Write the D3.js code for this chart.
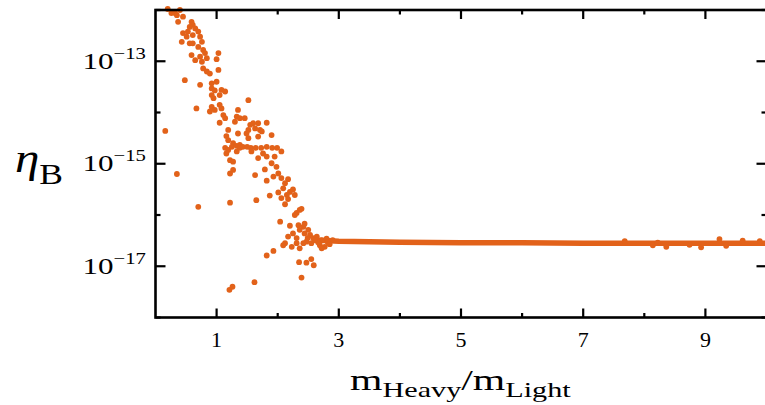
<!DOCTYPE html>
<html><head><meta charset="utf-8">
<script src="https://cdn.jsdelivr.net/npm/d3@7"></script>
<style>html,body{margin:0;padding:0;background:#fff}svg{display:block}</style>
</head><body>
<script>
// ---- data (x = m_Heavy/m_Light, y = log10 of eta_B) ----
const scatterX = [0.20,0.26,0.32,0.35,0.37,0.45,0.40,0.59,0.61,0.56,0.65,0.45,0.53,0.51,0.61,0.70,0.73,0.43,0.56,0.61,
 0.76,0.70,0.78,0.81,0.59,0.73,1.03,0.65,0.76,0.84,1.00,0.78,0.84,0.89,1.03,0.48,0.73,0.92,1.00,0.92,
 0.97,1.08,1.14,0.92,1.05,0.95,1.52,0.67,0.92,1.05,1.08,0.89,0.97,1.35,1.11,1.14,1.33,1.38,1.46,1.05,
 1.30,1.55,1.60,1.68,1.82,0.16,1.19,1.52,1.63,1.71,1.90,1.16,1.35,1.49,1.74,1.52,1.68,1.19,1.27,1.38,
 1.14,1.19,1.25,1.33,1.38,1.43,1.50,1.56,1.64,1.73,1.82,1.91,1.99,1.16,1.33,1.57,1.76,2.06,1.22,1.27,
 1.68,1.82,1.95,1.22,1.27,0.35,1.63,1.79,1.90,1.98,1.93,2.01,2.06,2.17,1.82,2.12,2.09,2.25,2.20,2.01,
 1.87,2.15,2.28,1.65,2.06,2.17,1.22,2.12,0.70,2.36,2.31,2.28,2.04,2.20,2.34,2.42,2.36,2.50,2.25,2.44,
 2.17,2.31,2.53,2.58,2.64,2.72,2.47,2.55,2.69,2.77,2.12,2.23,2.31,2.36,2.09,1.93,1.82,2.72,2.35,2.47,
 2.55,2.59,2.39,1.62,1.26,1.21,2.39,2.44,2.80,2.90,2.42,2.66,2.82,2.85,2.61,2.49,
 7.68,8.14,8.22,8.36,8.74,8.93,9.23,9.34,9.61,9.89];
const scatterLogY = [-11.98,-12.06,-12.06,-12.10,-12.23,-12.13,-12.00,-12.23,-12.29,-12.33,-12.36,-12.45,-12.42,-12.52,-12.49,-12.42,-12.52,-12.62,-12.65,-12.65,
 -12.62,-12.72,-12.78,-12.84,-12.88,-12.91,-12.84,-12.98,-13.01,-12.94,-12.96,-13.14,-13.20,-13.24,-13.17,-13.37,-13.46,-13.43,-13.40,-13.53,
 -13.57,-13.56,-13.59,-13.66,-13.66,-13.72,-13.76,-13.92,-13.89,-13.85,-13.92,-13.98,-13.95,-13.95,-14.05,-14.11,-14.08,-14.11,-14.11,-14.20,
 -14.18,-14.24,-14.21,-14.21,-14.20,-14.36,-14.34,-14.34,-14.31,-14.34,-14.44,-14.46,-14.41,-14.41,-14.37,-14.50,-14.47,-14.54,-14.60,-14.63,
 -14.69,-14.73,-14.67,-14.65,-14.69,-14.67,-14.67,-14.69,-14.69,-14.69,-14.67,-14.69,-14.69,-14.80,-14.76,-14.76,-14.80,-14.76,-14.93,-14.96,
 -14.89,-14.86,-14.86,-15.19,-15.12,-15.20,-15.22,-15.11,-14.99,-15.06,-15.25,-15.19,-15.28,-15.30,-15.33,-15.38,-15.48,-15.50,-15.55,-15.56,
 -15.62,-15.61,-15.61,-15.71,-15.67,-15.69,-15.76,-15.79,-15.84,-15.90,-15.96,-16.00,-16.13,-16.21,-16.20,-16.23,-16.29,-16.29,-16.36,-16.36,
 -16.42,-16.45,-16.39,-16.45,-16.42,-16.49,-16.52,-16.55,-16.59,-16.62,-16.55,-16.62,-16.55,-16.65,-16.59,-16.70,-16.79,-16.65,-16.92,-16.93,
 -16.86,-16.98,-17.22,-17.31,-17.40,-17.46,-15.88,-16.17,-16.46,-16.49,-16.55,-16.53,-16.53,-16.57,-16.49,-16.45,
 -16.51,-16.59,-16.54,-16.62,-16.58,-16.63,-16.47,-16.60,-16.50,-16.51];
// dense plateau of points (drawn as a thick band)
const plateauX = [2.60,3.00,3.50,4.00,5.00,6.00,7.00,8.00,9.00,10.00];
const plateauLogY = [-16.49,-16.51,-16.52,-16.53,-16.54,-16.54,-16.55,-16.55,-16.55,-16.55];
const xMajorTicks = [1,3,5,7,9];
const xMinorTicks = [2,4,6,8];
const yMajorExp = [-17,-15,-13];
const yMinorExp = [-18,-16,-14,-12];

const W = 765, H = 405;
const color = "#e2621a";
const svg = d3.select("body").append("svg").attr("width", W).attr("height", H);
const x = d3.scaleLinear().domain([0,10]).range([155.5, 766.5]);
const y = d3.scaleLog().domain([1e-18,1e-12]).range([317.5, 10]);
const serif = "Liberation Serif, Times New Roman, serif";

// plateau band
const band = plateauX.map((v,i)=>({x:v, y:Math.pow(10, plateauLogY[i])}));
svg.append("path").datum(band)
  .attr("d", d3.line().x(d=>x(d.x)).y(d=>y(d.y)))
  .attr("fill","none").attr("stroke",color).attr("stroke-width",5.5).attr("stroke-linecap","round");

// scatter points
const pts = scatterX.map((v,i)=>({x:v, y:Math.pow(10, scatterLogY[i])}));
svg.append("g").selectAll("circle").data(pts).join("circle")
  .attr("cx", d=>x(d.x)).attr("cy", d=>y(d.y)).attr("r", 2.9).attr("fill", color);

// frame
const [x0,x1] = x.range(), [y0,y1] = y.range();
svg.append("rect").attr("x",x0).attr("y",y1).attr("width",x1-x0).attr("height",y0-y1)
  .attr("fill","none").attr("stroke","#000").attr("stroke-width",2.6);

// ticks
const tk = svg.append("g").attr("stroke","#000").attr("stroke-width",2.2);
function xt(vals, len){
  vals.forEach(v=>{
    tk.append("line").attr("x1",x(v)).attr("x2",x(v)).attr("y1",y0).attr("y2",y0-len);
    tk.append("line").attr("x1",x(v)).attr("x2",x(v)).attr("y1",y1).attr("y2",y1+len);
  });
}
function yt(vals, len){
  vals.forEach(e=>{
    const yy = y(Math.pow(10,e));
    tk.append("line").attr("x1",x0).attr("x2",x0+len).attr("y1",yy).attr("y2",yy);
    tk.append("line").attr("x1",x1).attr("x2",x1-len).attr("y1",yy).attr("y2",yy);
  });
}
xt(xMajorTicks, 9); xt(xMinorTicks, 4.5);
yt(yMajorExp, 10); yt(yMinorExp, 5);

// helper: stretch a text horizontally to a target width starting at left x
function stretch(t, left, base, targetW){
  const b = t.node().getBBox();
  const s = targetW / b.width;
  t.attr("x",0).attr("y",0)
   .attr("transform",`translate(${left - b.x*s},${base}) scale(${s},1)`);
}

// x tick labels
xMajorTicks.forEach(v=>{
  svg.append("text").attr("x",x(v)).attr("y",347).attr("text-anchor","middle")
    .attr("font-family",serif).attr("font-size",22).text(v);
});

// y tick labels
yMajorExp.forEach(e=>{
  const t = svg.append("text").attr("font-family",serif).attr("font-size",24);
  t.append("tspan").text("10");
  t.append("tspan").attr("font-size",16).attr("dy",-10).text("\u2212" + Math.abs(e));
  stretch(t, 82.5, y(Math.pow(10,e)) + 7.5, 63.5);
});

// y label eta_B
const ey = svg.append("text").attr("font-family",serif).attr("font-size",40);
ey.append("tspan").attr("font-style","italic").text("\u03b7");
ey.append("tspan").attr("font-size",29).attr("dy",12).text("B");
stretch(ey, 15, 172, 48);

// x label
const xl = svg.append("text").attr("font-family",serif).attr("font-size",29);
xl.append("tspan").text("m");
xl.append("tspan").attr("font-size",21).attr("dy",7).text("Heavy");
xl.append("tspan").attr("dy",-7).text("/m");
xl.append("tspan").attr("font-size",21).attr("dy",7).text("Light");
stretch(xl, 350, 390, 221);
</script>
</body></html>
